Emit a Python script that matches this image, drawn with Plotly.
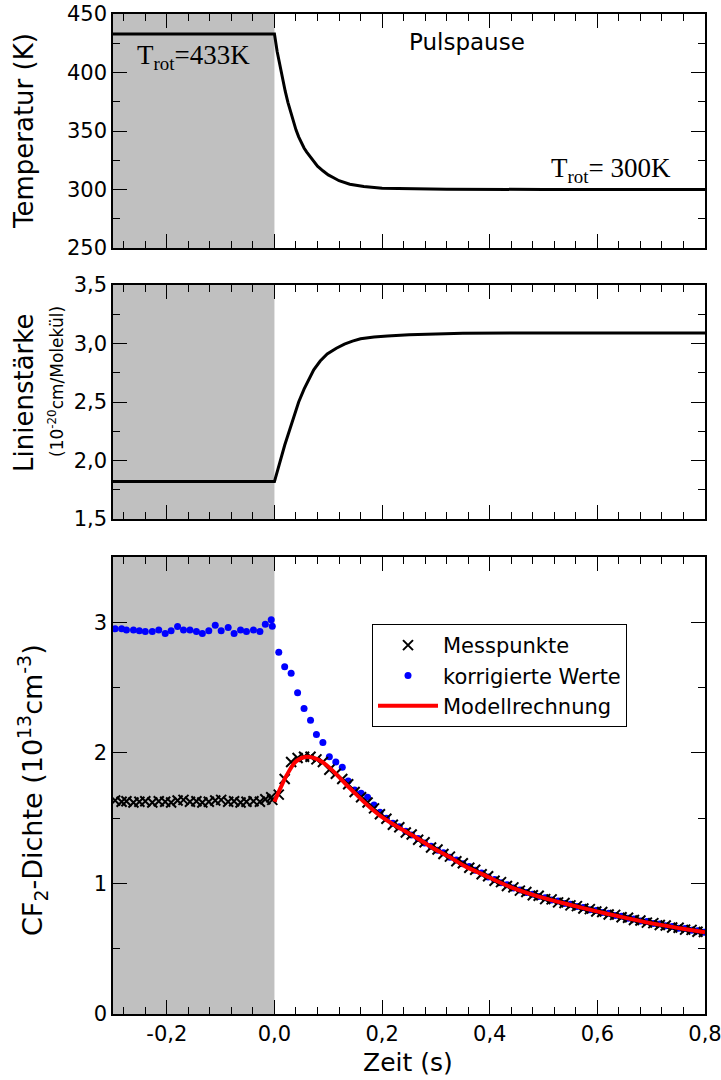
import plotly.graph_objects as go

# ---------------- data ----------------
# top panel: rotational temperature (K)
temp_t = [-0.3, 0.0, 0.005, 0.01, 0.015, 0.02, 0.025, 0.03, 0.035, 0.04, 0.045, 0.05,
          0.055, 0.06, 0.07, 0.08, 0.09, 0.10, 0.11, 0.12, 0.14, 0.166, 0.20, 0.25,
          0.32, 0.50, 0.80]
temp_K = [433, 433, 418, 406, 394, 384, 374.5, 366, 358, 351, 345, 340,
          335.5, 332, 325.5, 320, 316, 312.5, 310, 307.5, 304.5, 302.5, 301, 300.6,
          300.3, 300, 300]

# middle panel: line strength (1e-20 cm/Molekuel)
ls_t = [-0.3, 0.0, 0.019, 0.036, 0.045, 0.055, 0.064, 0.073, 0.085, 0.098, 0.115,
        0.13, 0.145, 0.16, 0.185, 0.21, 0.25, 0.285, 0.35, 0.50, 0.80]
ls_val = [1.82, 1.82, 2.13, 2.38, 2.50, 2.61, 2.70, 2.775, 2.85, 2.91, 2.96,
          2.995, 3.02, 3.04, 3.055, 3.065, 3.074, 3.08, 3.087, 3.09, 3.09]

# bottom panel: CF2 density (1e13 cm^-3)
t_pre = [-0.296, -0.284, -0.275, -0.262, -0.251, -0.240, -0.227, -0.215, -0.203,
         -0.192, -0.180, -0.169, -0.157, -0.145, -0.134, -0.122, -0.110, -0.099,
         -0.086, -0.075, -0.063, -0.052, -0.039, -0.027, -0.017, -0.006, -0.004]
mess_pre = [1.635, 1.625, 1.63, 1.62, 1.625, 1.63, 1.62, 1.63, 1.625,
            1.62, 1.635, 1.64, 1.625, 1.63, 1.62, 1.625, 1.635, 1.64,
            1.625, 1.63, 1.62, 1.625, 1.63, 1.625, 1.645, 1.66, 1.64]
korr_pre = [2.95, 2.95, 2.94, 2.94, 2.935, 2.93, 2.93, 2.94, 2.915,
            2.935, 2.967, 2.94, 2.94, 2.93, 2.915, 2.935, 2.977, 2.935,
            2.96, 2.915, 2.94, 2.93, 2.94, 2.93, 2.985, 3.02, 2.97]

t_post = [0.008, 0.019, 0.031, 0.043, 0.055, 0.067, 0.078, 0.090, 0.102, 0.114,
          0.126, 0.137, 0.149, 0.161, 0.173, 0.185, 0.196, 0.208, 0.220, 0.232,
          0.244, 0.255, 0.267, 0.279, 0.291, 0.303, 0.314, 0.326, 0.338, 0.350,
          0.362, 0.373, 0.385, 0.397, 0.409, 0.421, 0.432, 0.444, 0.456, 0.468,
          0.480, 0.491, 0.503, 0.515, 0.527, 0.539, 0.550, 0.562, 0.574, 0.586,
          0.598, 0.609, 0.621, 0.633, 0.645, 0.657, 0.668, 0.680, 0.692, 0.704,
          0.716, 0.727, 0.739, 0.751, 0.763, 0.775, 0.786, 0.798]
mess_post = [1.68, 1.80, 1.93, 1.96, 1.97, 1.97, 1.95, 1.93, 1.87, 1.84,
             1.80, 1.76, 1.70, 1.66, 1.62, 1.575, 1.53, 1.495, 1.45, 1.43,
             1.39, 1.375, 1.335, 1.315, 1.275, 1.26, 1.225, 1.205, 1.17, 1.155,
             1.12, 1.105, 1.07, 1.055, 1.02, 1.01, 0.98, 0.97, 0.945, 0.935,
             0.91, 0.905, 0.88, 0.878, 0.855, 0.85, 0.832, 0.826, 0.808, 0.803,
             0.785, 0.781, 0.762, 0.759, 0.741, 0.737, 0.72, 0.716, 0.70, 0.696,
             0.681, 0.678, 0.663, 0.66, 0.646, 0.644, 0.63, 0.628]
korr_post = [2.77, 2.66, 2.61, 2.46, 2.34, 2.25, 2.14, 2.08, 1.97, 1.93,
             1.89, 1.785, 1.715, 1.69, 1.66, 1.60, 1.545, 1.50, 1.46, 1.435,
             1.40, 1.37, 1.345, 1.31, 1.285, 1.255, 1.235, 1.20, 1.18, 1.15,
             1.13, 1.10, 1.08, 1.05, 1.03, 1.005, 0.99, 0.965, 0.95, 0.93,
             0.918, 0.899, 0.89, 0.873, 0.865, 0.847, 0.84, 0.823, 0.816, 0.799,
             0.793, 0.777, 0.771, 0.755, 0.749, 0.733, 0.728, 0.713, 0.708, 0.693,
             0.689, 0.675, 0.671, 0.657, 0.654, 0.641, 0.638, 0.626]

model_t = [0.0, 0.01, 0.023, 0.04, 0.06, 0.08, 0.097, 0.115, 0.135, 0.15, 0.17,
           0.196, 0.234, 0.26, 0.295, 0.322, 0.357, 0.384, 0.42, 0.446, 0.481,
           0.508, 0.543, 0.57, 0.605, 0.632, 0.694, 0.756, 0.80]
model_val = [1.625, 1.72, 1.83, 1.935, 1.97, 1.95, 1.905, 1.835, 1.75, 1.69, 1.61,
             1.52, 1.42, 1.36, 1.27, 1.21, 1.125, 1.075, 1.005, 0.96, 0.912,
             0.88, 0.842, 0.815, 0.78, 0.755, 0.70, 0.655, 0.625]

x_ticks = [-0.2, 0.0, 0.2, 0.4, 0.6, 0.8]
x_ticklabels = ["-0,2", "0,0", "0,2", "0,4", "0,6", "0,8"]

# ---------------- geometry helpers ----------------
W, H = 721, 1080
L, R, T, B = 113, 705, 14, 1014


def px(x):
    return (x - L) / (R - L)


def py(y):
    return (B - y) / (B - T)


SANS = "DejaVu Sans"
SERIF = "Liberation Serif"

fig = go.Figure()

fig.add_trace(go.Scatter(x=temp_t, y=temp_K, mode="lines",
                         line=dict(color="black", width=3),
                         xaxis="x", yaxis="y", showlegend=False))
fig.add_trace(go.Scatter(x=ls_t, y=ls_val, mode="lines",
                         line=dict(color="black", width=3),
                         xaxis="x2", yaxis="y2", showlegend=False))
fig.add_trace(go.Scatter(x=t_pre + t_post, y=korr_pre + korr_post, mode="markers",
                         name="korrigierte Werte", legendrank=2,
                         marker=dict(symbol="circle", size=7, color="#0000ff"),
                         xaxis="x3", yaxis="y3"))
fig.add_trace(go.Scatter(x=t_pre + t_post, y=mess_pre + mess_post, mode="markers",
                         name="Messpunkte", legendrank=1,
                         marker=dict(symbol="x-thin", size=10, color="black",
                                     line=dict(color="black", width=2)),
                         xaxis="x3", yaxis="y3"))
fig.add_trace(go.Scatter(x=model_t, y=model_val, mode="lines",
                         name="Modellrechnung", legendrank=3,
                         line=dict(color="#ff0000", width=4, shape="spline"),
                         xaxis="x3", yaxis="y3"))

axis_common = dict(showline=True, linecolor="black", linewidth=1.5, mirror="allticks",
                   ticks="inside", ticklen=14, tickwidth=1.2, tickcolor="black",
                   showgrid=False, zeroline=False, automargin=False,
                   tickfont=dict(family=SANS, size=21, color="black"))

def xax(anchor, labels):
    d = dict(axis_common)
    d.update(domain=[0, 1], anchor=anchor, range=[-0.3, 0.8],
             tickmode="array", tickvals=x_ticks, ticktext=x_ticklabels,
             showticklabels=labels, ticklabeloverflow="allow",
             minor=dict(dtick=0.04, tick0=0, ticks="inside", ticklen=7,
                        tickcolor="black", tickwidth=1.2, showgrid=False))
    return d

def yax(domain, rng, dtick, minor, fmt, anchor):
    d = dict(axis_common)
    d.update(domain=domain, range=rng, dtick=dtick, tick0=rng[0], tickformat=fmt,
             anchor=anchor,
             minor=dict(dtick=minor, ticks="inside", ticklen=7,
                        tickcolor="black", tickwidth=1.2, showgrid=False))
    return d

fig.update_layout(
    width=W, height=H, autosize=False,
    margin=dict(l=L, r=W - R, t=T, b=H - B, pad=0, autoexpand=False),
    paper_bgcolor="white", plot_bgcolor="white",
    separators=", ",
    font=dict(family=SANS, color="black"),
    xaxis=xax("y", False),
    xaxis2=xax("y2", False),
    xaxis3=xax("y3", True),
    yaxis=yax([py(248), 1.0], [250, 450], 50, 25, "d", "x"),
    yaxis2=yax([py(519), py(285)], [1.5, 3.5], 0.5, 0.25, ".1f", "x2"),
    yaxis3=yax([0.0, py(557)], [0, 3.5], 1, 0.5, "d", "x3"),
    legend=dict(x=px(372), y=py(624), xanchor="left", yanchor="top",
                bgcolor="white", bordercolor="black", borderwidth=1,
                font=dict(family=SANS, size=21, color="black"),
                itemwidth=60, tracegroupgap=0),
)

shapes = []
for ya in ["y", "y2", "y3"]:
    shapes.append(dict(type="rect", xref="x", yref=ya + " domain",
                       x0=-0.3, x1=0.0, y0=0, y1=1,
                       fillcolor="#c0c0c0", line=dict(width=0), layer="below"))
fig.update_layout(shapes=shapes)

ann = []
# axis titles
ann.append(dict(text="Temperatur (K)", x=px(24), y=py(131), xref="paper", yref="paper",
                textangle=-90, showarrow=False, xanchor="center", yanchor="middle",
                font=dict(family=SANS, size=26)))
ann.append(dict(text="Linienstärke", x=px(24), y=py(393), xref="paper", yref="paper",
                textangle=-90, showarrow=False, xanchor="center", yanchor="middle",
                font=dict(family=SANS, size=26)))
ann.append(dict(text="(10<sup>-20</sup>cm/Molekül)", x=px(56), y=py(382),
                xref="paper", yref="paper",
                textangle=-90, showarrow=False, xanchor="center", yanchor="middle",
                font=dict(family=SANS, size=17)))
ann.append(dict(text="CF<sub>2</sub>-Dichte (10<sup>13</sup>cm<sup>-3</sup>)",
                x=px(32), y=py(790), xref="paper", yref="paper",
                textangle=-90, showarrow=False, xanchor="center", yanchor="middle",
                font=dict(family=SANS, size=27)))
ann.append(dict(text="Zeit (s)", x=px(408), y=py(1062), xref="paper", yref="paper",
                showarrow=False, xanchor="center", yanchor="middle",
                font=dict(family=SANS, size=25)))
# panel texts
ann.append(dict(text="T<sub>rot</sub>=433K", x=px(135), y=py(57), xref="paper", yref="paper",
                showarrow=False, xanchor="left", yanchor="middle",
                font=dict(family=SERIF, size=27)))
ann.append(dict(text="Pulspause", x=px(467), y=py(42), xref="paper", yref="paper",
                showarrow=False, xanchor="center", yanchor="middle",
                font=dict(family=SANS, size=23)))
ann.append(dict(text="T<sub>rot</sub>= 300K", x=px(673), y=py(170), xref="paper", yref="paper",
                showarrow=False, xanchor="right", yanchor="middle",
                font=dict(family=SERIF, size=27)))
fig.update_layout(annotations=ann)

fig.write_html("out.html")
